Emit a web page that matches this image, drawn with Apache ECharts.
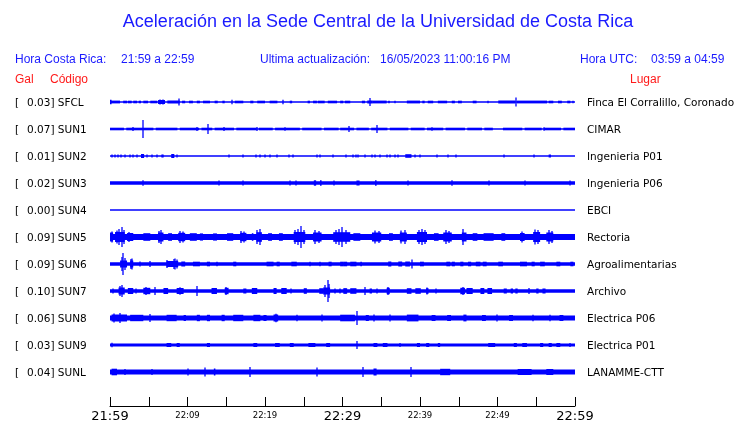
<!DOCTYPE html>
<html><head><meta charset="utf-8">
<script src="https://cdn.jsdelivr.net/npm/echarts@6/dist/echarts.min.js"></script>
<style>html,body{margin:0;padding:0;background:#fff}#c{width:740px;height:423px}</style>
</head><body><div id="c"></div>
<script>
// ---------- DATA ----------
const stations = ['SFCL','SUN1','SUN2','SUN3','SUN4','SUN5','SUN6','SUN7','SUN8','SUN9','SUNL'];
const galValues = ['0.03','0.07','0.01','0.02','0.00','0.09','0.09','0.10','0.06','0.03','0.04'];
const places = ['Finca El Corralillo, Coronado','CIMAR','Ingenieria P01','Ingenieria P06','EBCI','Rectoria','Agroalimentarias','Archivo','Electrica P06','Electrica P01','LANAMME-CTT'];
// baseline half-amplitude of each trace
const baseAmp = [0.75,0.75,0.75,1.8,0.75,2.9,1.7,1.8,2.5,1.5,2.5];
// time axis (minutes after 21:59)
const tickMinutes = [0,10,20,30,40,50,60];
const tickLabels = ['21:59','22:09','22:19','22:29','22:39','22:49','22:59'];
const majorLabels = ['21:59','22:29','22:59'];

// bursts: [startMin, endMin, halfAmplitude]; spikes: [min, halfAmplitude]
const sfclBands = [[0,1.3,1.4],[0,0.2,2.2],[1.7,2.2,1.3],[2.3,2.8,1.3],[3.0,3.5,1.3],[3.7,4.0,1.3],[4.3,4.9,1.3],[5.2,6.1,1.3],[6.2,7.1,2.0],[7.4,9.0,1.5],[9.3,9.7,1.3],[10.2,10.7,1.3],[11.2,11.6,1.3],[12.0,12.9,1.3],[13.5,13.9,1.3],[14.5,14.8,1.3],[16.1,17.2,1.3],[18.1,18.5,1.3],[19.0,20.0,1.3],[20.6,21.6,1.3],[23.2,23.5,1.3],[25.5,25.8,1.3],[26.2,26.7,1.3],[26.8,27.7,1.3],[28.1,29.3,1.3],[29.7,30.1,1.3],[30.3,31.0,1.3],[32.5,32.9,1.3],[33.2,33.9,1.5],[33.9,35.7,1.4],[35.9,36.1,1.3],[38.3,40.0,1.4],[40.3,40.6,1.3],[41.0,41.7,1.3],[42.3,43.5,1.3],[44.1,44.5,1.3],[44.9,45.4,1.3],[46.8,47.3,1.3],[50.1,52.3,1.5],[52.5,56.4,1.4],[56.6,57.2,1.3],[57.8,58.3,1.3],[59.0,59.4,1.3]];
const sfclSpikes = [[8.9,3.6],[15.8,2.2],[22.3,2.2],[33.5,4.0],[36.8,1.3],[48.8,1.3],[52.4,4.5],[59.8,1.3],[6.5,2.6],[6.8,2.4]];

const sun1Bands = [[0,1.8,1.3],[2.1,5.6,1.3],[5.9,8.7,1.3],[9.0,11.5,1.3],[11.8,13.2,1.3],[13.5,16.0,1.3],[16.3,18.9,1.3],[19.2,21.0,1.3],[21.3,24.5,1.3],[24.8,27.3,1.3],[27.6,29.5,1.3],[29.7,31.5,1.3],[31.8,33.4,1.3],[33.7,35.8,1.3],[36.1,38.5,1.3],[38.8,40.6,1.3],[40.9,43.0,1.3],[43.3,45.8,1.3],[46.1,48.0,1.3],[48.3,49.4,1.3],[50.7,53.2,1.3],[53.5,55.7,1.3],[56.0,58.2,1.3],[58.5,60,1.3]];
const sun1Spikes = [[4.3,9],[12.6,5],[3.0,2],[11.2,2],[14.7,2],[19.0,2],[30.8,3],[34.5,4],[22.6,1.8],[41.5,1.8],[56.0,1.8]];

const sun2Bands = [[4.0,4.4,2],[7.9,8.3,2],[38.1,38.9,1.8],[56.6,56.9,1.5]];
const sun2Spikes = [[0.2,1.5],[0.65,1.5],[1.07,1.5],[1.38,1.5],[1.94,1.5],[2.58,1.5],[3.0,1.5],[3.44,1.5],[4.73,1.5],[5.38,1.5],[6.02,1.5],[6.67,1.5],[6.88,1.5],[8.6,1.5],[15.3,1.5],[17.1,1.5],[18.9,1.5],[19.4,1.5],[20.0,1.5],[20.6,1.5],[21.5,1.5],[23.1,1.5],[23.6,1.5],[26.7,1.5],[27.1,1.5],[28.8,1.5],[30.5,1.5],[31.3,1.5],[31.7,1.5],[32.0,1.5],[32.9,1.5],[33.8,1.5],[34.2,1.5],[34.8,1.5],[35.7,1.5],[36.1,1.5],[36.8,1.5],[37.2,1.5],[39.4,1.5],[40.0,1.5],[42.2,1.5],[43.6,1.5],[44.7,1.5],[50.8,1.5],[54.7,1.5]];

const sun3Bands = [[26.3,26.6,2.7],[27.1,27.3,2.7],[31.8,32.2,2.5],[34.2,34.4,2.8]];
const sun3Spikes = [[4.2,2.8],[14.1,2.5],[17.1,2.5],[23.2,2.5],[24.0,2.5],[28.9,2.5],[38.5,2.5],[44.1,2.8],[48.9,2.5],[53.5,2.5],[59.3,2.5]];

const sun4Bands = [];
const sun4Spikes = [];

const sun5Bands = [[0,0.4,4.5],[0.65,1.9,5],[2.2,3.0,4],[4.3,5.2,3.8],[6.2,6.9,4.5],[7.5,8.0,3.8],[8.8,9.7,4.2],[10.3,11.2,3.8],[11.6,12.0,3.6],[13.3,13.8,3.6],[15.1,15.9,3.8],[16.8,17.6,4.2],[18.3,18.5,3.8],[18.9,19.6,4.8],[20.4,20.9,3.8],[21.8,22.3,3.8],[23.7,25.2,5],[26.2,27.3,4.5],[28.8,31.0,4.8],[31.4,32.3,3.8],[33.8,35.0,4.5],[36.0,36.5,3.8],[37.4,38.3,4.5],[39.6,40.9,5],[41.8,42.4,3.8],[43.0,44.1,4.5],[45.4,46.0,4.5],[46.8,47.4,3.8],[48.2,49.5,3.8],[50.5,51.0,3.8],[52.9,53.5,4],[54.6,55.5,5],[56.3,57.2,4.5]];
const sun5Spikes = [[0.3,5.5],[0.9,6.5],[1.2,8],[1.6,10],[1.8,7],[2.5,5],[6.3,6],[6.6,7],[9.0,6],[9.4,5.5],[16.9,6],[17.3,5.5],[19.0,7],[19.3,8],[23.9,7],[24.3,8],[24.7,11],[25.0,7],[26.5,7],[27.0,6],[29.1,7],[29.6,8],[29.9,10],[30.4,7],[34.2,6.5],[34.7,6],[37.6,6.5],[38.0,7],[39.9,7],[40.2,8],[40.6,7],[43.3,7],[43.8,6],[45.6,8],[53.2,5.5],[54.9,7.5],[55.2,7],[56.6,7],[57.0,6]];

const sun6Bands = [[1.3,2.2,3.5],[2.6,3.0,3.5],[7.3,8.8,3],[9.2,9.7,2.5],[10.7,11.6,2.3],[12.5,12.9,2.3],[15.9,16.3,2.3],[20.2,21.1,2.3],[21.5,21.9,2.3],[23.4,24.1,2.3],[28.2,28.6,2.3],[29.7,30.1,2.3],[30.1,30.6,2.3],[31.0,31.8,2.3],[32.3,32.5,2.3],[35.9,36.3,2.5],[37.2,37.7,2.5],[38.1,38.7,2.5],[40.0,40.5,2.3],[43.4,43.9,2.3],[44.1,44.5,2.3],[45.2,45.6,2.3],[46.2,46.6,2.3],[47.2,47.8,2.3],[48.1,48.6,2.3],[50.1,50.7,2.3],[52.9,53.8,2.3],[54.4,54.8,2.3],[55.5,56.1,2.3],[57.6,58.1,2.3],[59.4,59.8,2.3]];
const sun6Spikes = [[1.5,7],[1.7,11],[1.9,6],[2.7,5],[2.9,5.5],[3.9,2.5],[5.2,3],[7.4,4],[8.2,5],[8.4,5.5],[8.6,4.5],[13.8,2.3],[25.8,2.3],[27.1,2.3],[39.0,4.5]];

const sun7Bands = [[1.1,1.9,3.5],[2.3,3.0,3],[4.3,5.2,3.2],[6.9,7.5,3],[8.6,9.5,3],[13.1,13.8,3],[14.8,15.3,3.2],[17.2,17.6,2.5],[18.3,19.0,3],[21.1,21.5,3],[22.1,22.8,3],[25.0,25.4,2.8],[27.0,27.5,2.8],[27.5,28.4,3.5],[30.1,30.6,2.8],[31.0,31.8,2.8],[33.5,33.8,2.5],[35.7,36.1,3.2],[38.3,38.9,2.8],[39.4,40.1,2.8],[40.8,41.1,2.8],[45.2,45.8,3.2],[46.0,46.8,3],[47.8,48.3,3],[48.7,49.3,3],[50.8,51.2,2.5],[51.7,52.0,2.5],[52.3,52.6,2.5],[55.0,55.3,2.5],[55.8,56.2,2.5]];
const sun7Spikes = [[0.4,2.5],[1.3,5],[1.5,6],[3.4,2.5],[4.6,4],[5.8,4],[9.0,3.8],[11.2,5],[15.0,4],[23.4,2.5],[27.8,6],[28.1,11],[28.3,7],[29.0,2.5],[29.7,2.5],[30.3,2.5],[32.9,4],[34.4,2.5],[35.9,4],[40.9,3.5],[42.1,2.5],[45.5,4],[54.0,3]];

const sun8Bands = [[0.2,2.2,3.5],[2.6,4.3,3.2],[7.3,8.6,3.2],[9.5,9.8,3],[11.2,11.6,3.2],[12.5,12.9,3.2],[14.4,14.8,3.2],[15.9,17.2,3.2],[18.5,19.4,3.2],[19.8,20.2,3],[21.1,21.7,3.5],[29.7,31.6,3.3],[33.0,33.4,3],[38.3,39.8,3.4],[41.5,42.0,3],[43.5,44.0,3],[45.6,46.0,3.4],[48.0,48.5,3],[51.5,52.0,3],[58.0,58.5,3]];
const sun8Spikes = [[0.5,4.5],[1.3,5],[5.2,4],[21.4,4.2],[24.1,3.2],[27.3,3.5],[31.9,7],[34.0,3.5],[36.1,3.5],[49.9,3.5],[54.6,3.3],[56.8,3.3]];

const sun9Bands = [[7.3,7.9,2],[8.6,9.0,2],[12.5,12.9,2],[18.5,19.0,2],[21.3,21.9,2],[23.2,23.7,2],[25.6,26.5,2],[27.9,28.4,2],[34.0,34.5,2],[35.2,35.8,2],[39.6,40.0,2],[40.8,41.2,2],[42.3,42.6,2],[48.8,49.7,2],[52.1,52.5,2],[53.2,53.8,2],[55.5,55.9,2],[56.6,57.0,2],[57.6,58.1,2]];
const sun9Spikes = [[0.2,2.2],[31.9,4],[37.4,2],[59.4,2]];

const sunlBands = [[0.2,0.9,3.3],[13.4,13.6,3.5],[34.0,34.4,3.5],[42.6,43.9,3.2],[52.6,54.4,3],[56.3,57.2,3]];
const sunlSpikes = [[1.9,3],[5.4,3],[10.1,3.5],[12.3,4.5],[18.1,5],[26.7,4.5],[32.7,5],[38.9,5]];

const traceBands = [sfclBands,sun1Bands,sun2Bands,sun3Bands,sun4Bands,sun5Bands,sun6Bands,sun7Bands,sun8Bands,sun9Bands,sunlBands];
const traceSpikes = [sfclSpikes,sun1Spikes,sun2Spikes,sun3Spikes,sun4Spikes,sun5Spikes,sun6Spikes,sun7Spikes,sun8Spikes,sun9Spikes,sunlSpikes];

// ---------- LAYOUT ----------
const BLUE = '#0000ff';
const HEAD = '#1a1aff';
const RED = '#ff1a1a';
const firstCenter = 102, rowStep = 27, rowH = 27;
const plotLeft = 110, plotRight = 165;
const lf = '10.5px "DejaVu Sans"';

const grids = [], xAxes = [], yAxes = [], series = [], graphics = [];
for (let i = 0; i < stations.length; i++) {
  const c = firstCenter + i * rowStep;
  grids.push({left: plotLeft, right: plotRight, top: c - rowH / 2, height: rowH});
  xAxes.push({gridIndex: i, type: 'value', min: 0, max: 60, show: false});
  yAxes.push({gridIndex: i, type: 'value', min: -rowH / 2, max: rowH / 2, show: false});
  const data = [[0, 60, baseAmp[i]]];
  traceBands[i].forEach(b => data.push([b[0], b[1], b[2]]));
  traceSpikes[i].forEach(s => data.push([s[0], s[0], s[1]]));
  series.push({
    type: 'custom', xAxisIndex: i, yAxisIndex: i, silent: true, clip: false,
    data: data,
    encode: {x: [0, 1], y: 2},
    renderItem: function (params, api) {
      const t0 = api.value(0), t1 = api.value(1), a = api.value(2);
      const p0 = api.coord([t0, a]), p1 = api.coord([t1, -a]);
      let x = p0[0], w = p1[0] - p0[0];
      if (w < 1.3) { x = Math.round((p0[0] + p1[0]) / 2) - 0.65; w = 1.3; }
      let y = p0[1], h = p1[1] - p0[1];
      if (h < 1.5) { y = (p0[1] + p1[1]) / 2 - 0.75; h = 1.5; }
      return {type: 'rect', shape: {x: x, y: y, width: w, height: h}, style: {fill: BLUE}};
    }
  });
  graphics.push({type: 'text', x: 15, y: c + 1, style: {text: '[', font: lf, fill: '#000', textVerticalAlign: 'middle'}});
  graphics.push({type: 'text', x: 27, y: c + 1, style: {text: galValues[i] + '] ' + stations[i], font: lf, fill: '#000', textVerticalAlign: 'middle'}});
  graphics.push({type: 'text', x: 587, y: c + 1, style: {text: places[i], font: lf, fill: '#000', textVerticalAlign: 'middle'}});
}
// time axis grid
const ai = stations.length;
grids.push({left: plotLeft, right: plotRight, top: 399, height: 10});
xAxes.push({
  gridIndex: ai, type: 'value', min: 0, max: 60, interval: 5, position: 'bottom',
  axisLine: {show: true, lineStyle: {color: '#000', width: 1}},
  axisTick: {show: true, inside: true, length: 9, lineStyle: {color: '#000', width: 1}},
  splitLine: {show: false},
  axisLabel: {
    show: true, margin: 3, showMinLabel: true, showMaxLabel: true,
    formatter: function (v) {
      const k = tickMinutes.indexOf(v);
      if (k < 0) return '';
      const t = tickLabels[k];
      return majorLabels.indexOf(t) >= 0 ? '{b|' + t + '}' : '{s|' + t + '}';
    },
    rich: {
      b: {fontFamily: 'DejaVu Sans', fontSize: 13, color: '#000', lineHeight: 15},
      s: {fontFamily: 'DejaVu Sans', fontSize: 8.5, color: '#000', lineHeight: 13}
    }
  }
});
yAxes.push({gridIndex: ai, type: 'value', show: false, min: 0, max: 1});
series.push({type: 'line', xAxisIndex: ai, yAxisIndex: ai, data: [], silent: true});

// header texts
const hf = '12px "Liberation Sans", Arial, sans-serif';
function head(x, y, text, color, font, align) {
  graphics.push({type: 'text', x: x, y: y, style: {text: text, font: font || hf, fill: color, textVerticalAlign: 'middle', textAlign: align || 'left'}});
}
head(378, 22, 'Aceleración en la Sede Central de la Universidad de Costa Rica', HEAD, '18px "Liberation Sans", Arial, sans-serif', 'center');
head(15, 60, 'Hora Costa Rica:', HEAD);
head(121, 60, '21:59 a 22:59', HEAD);
head(260, 60, 'Ultima actualización:', HEAD);
head(380, 60, '16/05/2023 11:00:16 PM', HEAD);
head(580, 60, 'Hora UTC:', HEAD);
head(651, 60, '03:59 a 04:59', HEAD);
head(15, 80, 'Gal', RED);
head(50, 80, 'Código', RED);
head(630, 80, 'Lugar', RED);

const chart = echarts.init(document.getElementById('c'), null, {renderer: 'canvas'});
chart.setOption({
  animation: false,
  backgroundColor: '#fff',
  grid: grids, xAxis: xAxes, yAxis: yAxes, series: series, graphic: graphics
});
</script></body></html>
